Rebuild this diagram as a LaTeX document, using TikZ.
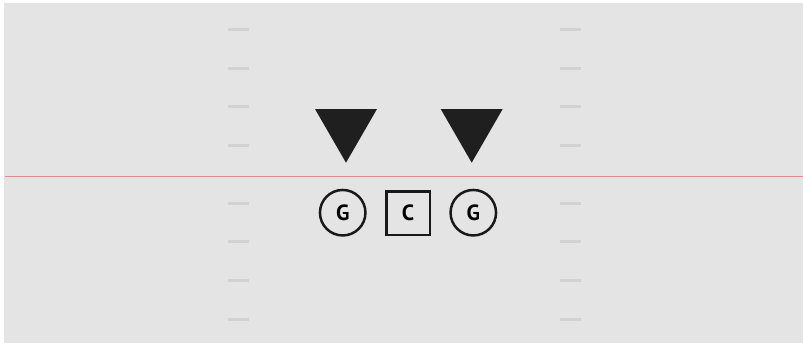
\documentclass[tikz,border=0pt]{standalone}
\usepackage{fontspec}
\setsansfont{PT Sans}
\usetikzlibrary{shapes.geometric}

\definecolor{field}{HTML}{E4E4E4}
\definecolor{hashgray}{HTML}{D2D2D2}
\definecolor{losred}{HTML}{D89090}

\begin{document}
\begin{tikzpicture}[
  x=1pt, y=-1pt,
  defender/.style={
    regular polygon, regular polygon sides=3, shape border rotate=180,
    fill=black!88, minimum size=71.6pt, inner sep=0pt},
  player/.style={
    draw=black!90, line width=2.5pt, inner sep=0pt,
    font=\sffamily\bfseries\fontsize{22}{22}\selectfont},
  guard/.style={player, circle, minimum size=45.5pt},
  snapper/.style={player, rectangle, minimum size=43.5pt},
  hash/.style={draw=hashgray, line width=3pt},
  scrimmage/.style={draw=losred, line width=1.4pt}
]

% field
\fill[white] (0,0) rectangle (803,346);
\fill[field] (4,3) rectangle (803,343);
\useasboundingbox (0,0) rectangle (803,346);

% hash marks
\foreach \y in {29.7,68,106.5,145,203,241.5,280.3,319} {
  \draw[hash] (228,\y) -- (249,\y);
  \draw[hash] (560,\y) -- (581,\y);
}

% line of scrimmage
\draw[scrimmage] (5,176.7) -- (803,176.7);

% defense
\node[defender] (dl) at (346,126.9) {};
\node[defender] (dr) at (471.7,126.9) {};

% offense
\node[guard]   (lg) at (342.7,212.7) {G};
\node[snapper] (c)  at (408,213)     {C};
\node[guard]   (rg) at (473.3,212.7) {G};

\end{tikzpicture}
\end{document}
